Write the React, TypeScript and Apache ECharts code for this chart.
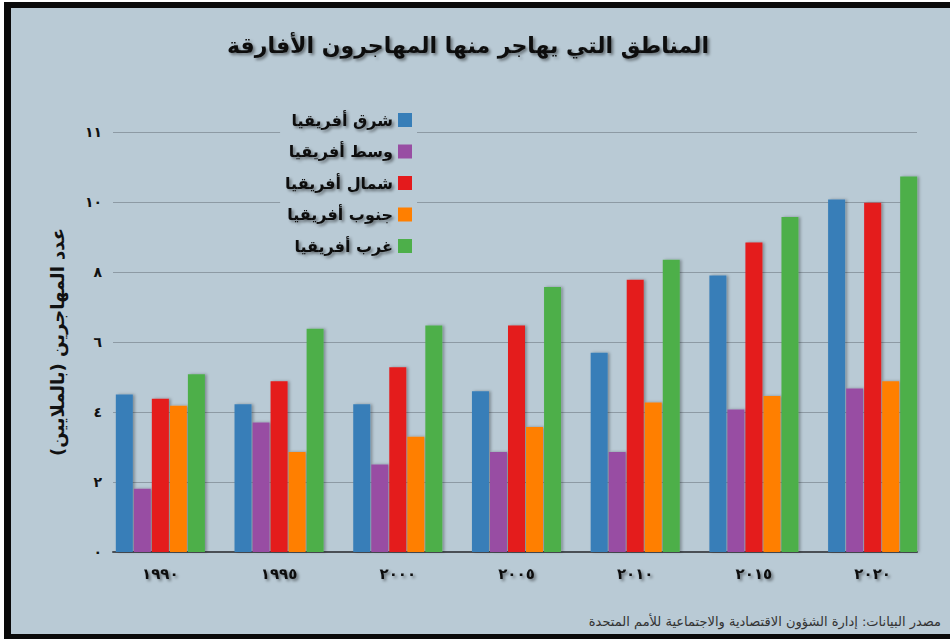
import React, { useEffect, useRef } from "react";
import * as echarts from "echarts";

const categories = ["١٩٩٠", "١٩٩٥", "٢٠٠٠", "٢٠٠٥", "٢٠١٠", "٢٠١٥", "٢٠٢٠"];
const yTickLabels = ["٠", "٢", "٤", "٦", "٨", "١٠", "١١"];
const seriesNames = ["شرق أفريقيا", "وسط أفريقيا", "شمال أفريقيا", "جنوب أفريقيا", "غرب أفريقيا"];
const seriesColors = ["#377eb8", "#984ea3", "#e41a1c", "#ff7f00", "#4daf4a"];
const eastAfrica = [4.5, 4.22, 4.22, 4.59, 5.69, 7.9, 10.07];
const centralAfrica = [1.81, 3.7, 2.5, 2.86, 2.86, 4.07, 4.67];
const northAfrica = [4.38, 4.88, 5.28, 6.47, 7.78, 8.84, 9.98];
const southAfrica = [4.18, 2.86, 3.29, 3.57, 4.27, 4.46, 4.88];
const westAfrica = [5.08, 6.38, 6.47, 7.57, 8.35, 9.57, 10.73];
const seriesValues = [eastAfrica, centralAfrica, northAfrica, southAfrica, westAfrica];

const titleText = "المناطق التي يهاجر منها المهاجرون الأفارقة";
const yAxisName = "عدد المهاجرين (بالملايين)";
const sourceText = "مصدر البيانات: إدارة الشؤون الاقتصادية والاجتماعية للأمم المتحدة";

const BG = "#b9cad5";
const FONT = "DejaVu Sans";
const shadow = {
  textShadowColor: "rgba(0,0,0,0.45)",
  textShadowBlur: 3,
  textShadowOffsetX: 2,
  textShadowOffsetY: 2,
};

export default function App() {
  const ref = useRef<HTMLDivElement>(null);
  useEffect(() => {
    if (!ref.current) return;
    const chart = echarts.init(ref.current, null, { renderer: "svg" });
    const option: any = {
      animation: false,
      backgroundColor: "#ffffff",
      graphic: [
        { type: "rect", z: -10, shape: { x: 4, y: 2, width: 946, height: 637 }, style: { fill: "#0a0a0a" } },
        { type: "rect", z: -9, shape: { x: 11, y: 8, width: 939, height: 626 }, style: { fill: BG } },
      ],
      title: [
        {
          text: titleText,
          left: 463,
          top: 29,
          textAlign: "center",
          textStyle: { fontFamily: FONT, fontSize: 22, fontWeight: "bold", color: "#111", ...shadow },
        },
        {
          text: sourceText,
          right: 4,
          top: 610,
          textStyle: { fontFamily: FONT, fontSize: 13, fontWeight: "normal", color: "#333" },
        },
      ],
      legend: {
        data: seriesNames,
        orient: "vertical",
        align: "right",
        right: 533,
        top: 107,
        padding: 5,
        itemWidth: 14,
        itemHeight: 14,
        itemGap: 15.5,
        icon: "rect",
        backgroundColor: BG,
        textStyle: { fontFamily: FONT, fontSize: 16, fontWeight: "bold", color: "#111", lineHeight: 14, ...shadow },
      },
      grid: [
        { left: 113, right: 33, top: 132, bottom: 90 },
        { left: 101, right: 18, top: 132, bottom: 90 },
      ],
      xAxis: [
        {
          type: "category",
          gridIndex: 0,
          data: categories,
          axisLine: { show: true, lineStyle: { color: "#4a4f55", width: 2 } },
          axisTick: { show: false },
          axisLabel: { show: false },
          splitLine: { show: false },
        },
        {
          type: "category",
          gridIndex: 1,
          data: categories,
          axisLine: { show: false },
          axisTick: { show: false },
          axisLabel: {
            margin: 14,
            fontFamily: FONT,
            fontSize: 15,
            fontWeight: "bold",
            color: "#111",
            ...shadow,
          },
        },
      ],
      yAxis: [
        {
          type: "value",
          gridIndex: 0,
          min: 0,
          max: 12,
          interval: 2,
          name: yAxisName,
          nameLocation: "middle",
          nameGap: 47,
          nameTextStyle: { fontFamily: FONT, fontSize: 18, fontWeight: "bold", color: "#111" },
          axisLine: { show: false },
          axisTick: { show: false },
          axisLabel: {
            margin: 11,
            fontFamily: FONT,
            fontSize: 14,
            fontWeight: "bold",
            color: "#111",
            formatter: (v: number) => yTickLabels[Math.round(v / 2)] ?? "",
          },
          splitLine: { show: true, lineStyle: { color: "#8d9aa4", width: 1 } },
        },
        {
          type: "value",
          gridIndex: 1,
          min: 0,
          max: 12,
          interval: 2,
          show: false,
          splitLine: { show: false },
        },
      ],
      series: seriesNames.map((name, i) => ({
        name,
        type: "bar",
        xAxisIndex: 1,
        yAxisIndex: 1,
        data: seriesValues[i],
        barWidth: 17,
        barGap: "6%",
        itemStyle: {
          color: seriesColors[i],
          shadowColor: "rgba(0,0,0,0.3)",
          shadowBlur: 3,
          shadowOffsetX: 2,
          shadowOffsetY: 0,
        },
      })),
    };
    chart.setOption(option);
    return () => chart.dispose();
  }, []);
  return (
    <div
      ref={ref}
      style={{ position: "absolute", left: 0, top: 0, width: 950, height: 642 }}
    />
  );
}
